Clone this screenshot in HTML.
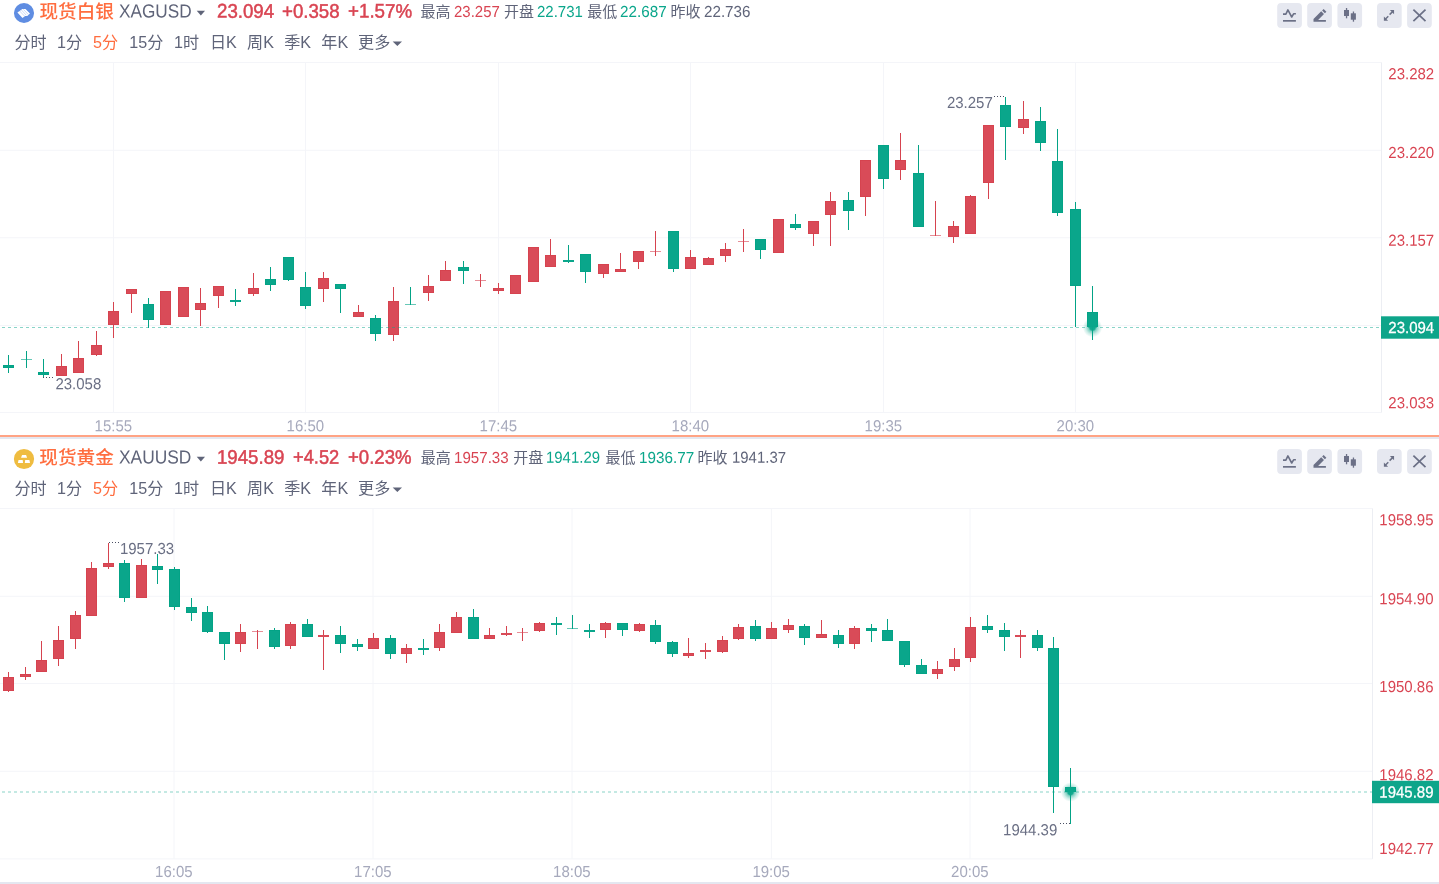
<!DOCTYPE html>
<html lang="zh-CN"><head><meta charset="utf-8"><title>行情图表</title>
<style>
html,body{margin:0;padding:0;background:#fff;}
body{width:1439px;height:884px;overflow:hidden;position:relative;font-family:"Liberation Sans", "Noto Sans CJK SC", sans-serif;}
.t{position:absolute;white-space:nowrap;line-height:1;transform-origin:0 50%;}
svg{position:absolute;left:0;top:0;} svg text{font-family:"Liberation Sans", "Noto Sans CJK SC", sans-serif;}
.sep{position:absolute;left:0;width:1439px;} a.t{text-decoration:none;cursor:pointer;}
</style></head><body>
<svg width="1439" height="884" viewBox="0 0 1439 884">
<defs><radialGradient id="glow"><stop offset="0" stop-color="#0aa68b" stop-opacity="1"/><stop offset="0.27" stop-color="#0aa68b" stop-opacity="0.95"/><stop offset="0.42" stop-color="#0aa68b" stop-opacity="0.5"/><stop offset="0.7" stop-color="#0aa68b" stop-opacity="0.2"/><stop offset="1" stop-color="#0aa68b" stop-opacity="0"/></radialGradient></defs>
<g stroke="#f4f5f9" stroke-width="1" fill="none">
<line x1="0" y1="62.5" x2="1381.5" y2="62.5"/>
<line x1="0" y1="412.5" x2="1381.5" y2="412.5"/>
<line x1="0" y1="150.25" x2="1381" y2="150.25"/>
<line x1="0" y1="237.75" x2="1381" y2="237.75"/>
<line x1="0" y1="325.5" x2="1381" y2="325.5"/>
<line x1="113.5" y1="62.5" x2="113.5" y2="412.5"/>
<line x1="305.5" y1="62.5" x2="305.5" y2="412.5"/>
<line x1="498.5" y1="62.5" x2="498.5" y2="412.5"/>
<line x1="690.5" y1="62.5" x2="690.5" y2="412.5"/>
<line x1="883.5" y1="62.5" x2="883.5" y2="412.5"/>
<line x1="1075.5" y1="62.5" x2="1075.5" y2="412.5"/>
<line x1="1381.5" y1="62.5" x2="1381.5" y2="412.5" stroke="#eceef3"/>
</g>
<g shape-rendering="crispEdges"><rect x="8" y="355" width="1" height="18" fill="#03a386"/>
<rect x="3" y="365" width="11" height="3" fill="#03a386"/>
<rect x="4" y="366" width="9" height="1" fill="#0aa68b"/>
<rect x="26" y="351" width="1" height="17" fill="#03a386"/>
<rect x="21" y="359" width="11" height="1" fill="#0aa68b" fill-opacity="0.62"/>
<rect x="43" y="359" width="1" height="19" fill="#03a386"/>
<rect x="38" y="372" width="11" height="3" fill="#03a386"/>
<rect x="39" y="373" width="9" height="1" fill="#0aa68b"/>
<rect x="61" y="354" width="1" height="22" fill="#d6434f"/>
<rect x="56" y="366" width="11" height="10" fill="#d6434f"/>
<rect x="57" y="367" width="9" height="8" fill="#d94b58"/>
<rect x="78" y="341" width="1" height="32" fill="#d6434f"/>
<rect x="73" y="358" width="11" height="15" fill="#d6434f"/>
<rect x="74" y="359" width="9" height="13" fill="#d94b58"/>
<rect x="96" y="331" width="1" height="25" fill="#d6434f"/>
<rect x="91" y="345" width="11" height="10" fill="#d6434f"/>
<rect x="92" y="346" width="9" height="8" fill="#d94b58"/>
<rect x="113" y="302" width="1" height="36" fill="#d6434f"/>
<rect x="108" y="311" width="11" height="14" fill="#d6434f"/>
<rect x="109" y="312" width="9" height="12" fill="#d94b58"/>
<rect x="131" y="289" width="1" height="24" fill="#d6434f"/>
<rect x="126" y="289" width="11" height="5" fill="#d6434f"/>
<rect x="127" y="290" width="9" height="3" fill="#d94b58"/>
<rect x="148" y="298" width="1" height="30" fill="#03a386"/>
<rect x="143" y="304" width="11" height="16" fill="#03a386"/>
<rect x="144" y="305" width="9" height="14" fill="#0aa68b"/>
<rect x="165" y="291" width="1" height="34" fill="#d6434f"/>
<rect x="160" y="291" width="11" height="34" fill="#d6434f"/>
<rect x="161" y="292" width="9" height="32" fill="#d94b58"/>
<rect x="183" y="287" width="1" height="30" fill="#d6434f"/>
<rect x="178" y="287" width="11" height="30" fill="#d6434f"/>
<rect x="179" y="288" width="9" height="28" fill="#d94b58"/>
<rect x="200" y="288" width="1" height="38" fill="#d6434f"/>
<rect x="195" y="303" width="11" height="7" fill="#d6434f"/>
<rect x="196" y="304" width="9" height="5" fill="#d94b58"/>
<rect x="218" y="286" width="1" height="22" fill="#d6434f"/>
<rect x="213" y="286" width="11" height="10" fill="#d6434f"/>
<rect x="214" y="287" width="9" height="8" fill="#d94b58"/>
<rect x="235" y="289" width="1" height="17" fill="#03a386"/>
<rect x="230" y="300" width="11" height="2" fill="#0aa68b"/>
<rect x="253" y="273" width="1" height="23" fill="#d6434f"/>
<rect x="248" y="288" width="11" height="6" fill="#d6434f"/>
<rect x="249" y="289" width="9" height="4" fill="#d94b58"/>
<rect x="270" y="267" width="1" height="24" fill="#03a386"/>
<rect x="265" y="279" width="11" height="6" fill="#03a386"/>
<rect x="266" y="280" width="9" height="4" fill="#0aa68b"/>
<rect x="288" y="257" width="1" height="24" fill="#03a386"/>
<rect x="283" y="257" width="11" height="23" fill="#03a386"/>
<rect x="284" y="258" width="9" height="21" fill="#0aa68b"/>
<rect x="305" y="272" width="1" height="37" fill="#03a386"/>
<rect x="300" y="287" width="11" height="19" fill="#03a386"/>
<rect x="301" y="288" width="9" height="17" fill="#0aa68b"/>
<rect x="323" y="272" width="1" height="30" fill="#d6434f"/>
<rect x="318" y="278" width="11" height="11" fill="#d6434f"/>
<rect x="319" y="279" width="9" height="9" fill="#d94b58"/>
<rect x="340" y="284" width="1" height="29" fill="#03a386"/>
<rect x="335" y="284" width="11" height="5" fill="#03a386"/>
<rect x="336" y="285" width="9" height="3" fill="#0aa68b"/>
<rect x="358" y="305" width="1" height="12" fill="#d6434f"/>
<rect x="353" y="312" width="11" height="5" fill="#d6434f"/>
<rect x="354" y="313" width="9" height="3" fill="#d94b58"/>
<rect x="375" y="315" width="1" height="26" fill="#03a386"/>
<rect x="370" y="318" width="11" height="16" fill="#03a386"/>
<rect x="371" y="319" width="9" height="14" fill="#0aa68b"/>
<rect x="393" y="287" width="1" height="54" fill="#d6434f"/>
<rect x="388" y="301" width="11" height="34" fill="#d6434f"/>
<rect x="389" y="302" width="9" height="32" fill="#d94b58"/>
<rect x="410" y="287" width="1" height="18" fill="#03a386"/>
<rect x="405" y="304" width="11" height="1" fill="#0aa68b" fill-opacity="0.62"/>
<rect x="428" y="275" width="1" height="26" fill="#d6434f"/>
<rect x="423" y="286" width="11" height="7" fill="#d6434f"/>
<rect x="424" y="287" width="9" height="5" fill="#d94b58"/>
<rect x="445" y="261" width="1" height="20" fill="#d6434f"/>
<rect x="440" y="270" width="11" height="11" fill="#d6434f"/>
<rect x="441" y="271" width="9" height="9" fill="#d94b58"/>
<rect x="463" y="261" width="1" height="23" fill="#03a386"/>
<rect x="458" y="267" width="11" height="4" fill="#03a386"/>
<rect x="459" y="268" width="9" height="2" fill="#0aa68b"/>
<rect x="480" y="274" width="1" height="13" fill="#d6434f"/>
<rect x="475" y="280" width="11" height="1" fill="#d94b58" fill-opacity="0.62"/>
<rect x="498" y="283" width="1" height="11" fill="#d6434f"/>
<rect x="493" y="288" width="11" height="3" fill="#d6434f"/>
<rect x="494" y="289" width="9" height="1" fill="#d94b58"/>
<rect x="515" y="275" width="1" height="19" fill="#d6434f"/>
<rect x="510" y="275" width="11" height="19" fill="#d6434f"/>
<rect x="511" y="276" width="9" height="17" fill="#d94b58"/>
<rect x="533" y="247" width="1" height="35" fill="#d6434f"/>
<rect x="528" y="247" width="11" height="35" fill="#d6434f"/>
<rect x="529" y="248" width="9" height="33" fill="#d94b58"/>
<rect x="550" y="239" width="1" height="28" fill="#d6434f"/>
<rect x="545" y="255" width="11" height="12" fill="#d6434f"/>
<rect x="546" y="256" width="9" height="10" fill="#d94b58"/>
<rect x="568" y="245" width="1" height="18" fill="#03a386"/>
<rect x="563" y="260" width="11" height="2" fill="#0aa68b"/>
<rect x="585" y="254" width="1" height="29" fill="#03a386"/>
<rect x="580" y="254" width="11" height="18" fill="#03a386"/>
<rect x="581" y="255" width="9" height="16" fill="#0aa68b"/>
<rect x="603" y="264" width="1" height="14" fill="#d6434f"/>
<rect x="598" y="264" width="11" height="10" fill="#d6434f"/>
<rect x="599" y="265" width="9" height="8" fill="#d94b58"/>
<rect x="620" y="253" width="1" height="19" fill="#d6434f"/>
<rect x="615" y="269" width="11" height="3" fill="#d6434f"/>
<rect x="616" y="270" width="9" height="1" fill="#d94b58"/>
<rect x="638" y="251" width="1" height="18" fill="#d6434f"/>
<rect x="633" y="251" width="11" height="11" fill="#d6434f"/>
<rect x="634" y="252" width="9" height="9" fill="#d94b58"/>
<rect x="655" y="231" width="1" height="25" fill="#d6434f"/>
<rect x="650" y="251" width="11" height="1" fill="#d94b58" fill-opacity="0.62"/>
<rect x="673" y="231" width="1" height="41" fill="#03a386"/>
<rect x="668" y="231" width="11" height="38" fill="#03a386"/>
<rect x="669" y="232" width="9" height="36" fill="#0aa68b"/>
<rect x="690" y="250" width="1" height="19" fill="#d6434f"/>
<rect x="685" y="257" width="11" height="12" fill="#d6434f"/>
<rect x="686" y="258" width="9" height="10" fill="#d94b58"/>
<rect x="708" y="257" width="1" height="8" fill="#d6434f"/>
<rect x="703" y="258" width="11" height="7" fill="#d6434f"/>
<rect x="704" y="259" width="9" height="5" fill="#d94b58"/>
<rect x="725" y="243" width="1" height="19" fill="#d6434f"/>
<rect x="720" y="249" width="11" height="7" fill="#d6434f"/>
<rect x="721" y="250" width="9" height="5" fill="#d94b58"/>
<rect x="743" y="229" width="1" height="23" fill="#d6434f"/>
<rect x="738" y="241" width="11" height="1" fill="#d94b58" fill-opacity="0.62"/>
<rect x="760" y="239" width="1" height="20" fill="#03a386"/>
<rect x="755" y="239" width="11" height="11" fill="#03a386"/>
<rect x="756" y="240" width="9" height="9" fill="#0aa68b"/>
<rect x="778" y="219" width="1" height="34" fill="#d6434f"/>
<rect x="773" y="219" width="11" height="34" fill="#d6434f"/>
<rect x="774" y="220" width="9" height="32" fill="#d94b58"/>
<rect x="795" y="214" width="1" height="16" fill="#03a386"/>
<rect x="790" y="224" width="11" height="4" fill="#03a386"/>
<rect x="791" y="225" width="9" height="2" fill="#0aa68b"/>
<rect x="813" y="221" width="1" height="25" fill="#d6434f"/>
<rect x="808" y="221" width="11" height="13" fill="#d6434f"/>
<rect x="809" y="222" width="9" height="11" fill="#d94b58"/>
<rect x="830" y="192" width="1" height="54" fill="#d6434f"/>
<rect x="825" y="201" width="11" height="14" fill="#d6434f"/>
<rect x="826" y="202" width="9" height="12" fill="#d94b58"/>
<rect x="848" y="192" width="1" height="38" fill="#03a386"/>
<rect x="843" y="200" width="11" height="11" fill="#03a386"/>
<rect x="844" y="201" width="9" height="9" fill="#0aa68b"/>
<rect x="865" y="160" width="1" height="56" fill="#d6434f"/>
<rect x="860" y="160" width="11" height="37" fill="#d6434f"/>
<rect x="861" y="161" width="9" height="35" fill="#d94b58"/>
<rect x="883" y="145" width="1" height="44" fill="#03a386"/>
<rect x="878" y="145" width="11" height="34" fill="#03a386"/>
<rect x="879" y="146" width="9" height="32" fill="#0aa68b"/>
<rect x="900" y="133" width="1" height="47" fill="#d6434f"/>
<rect x="895" y="160" width="11" height="10" fill="#d6434f"/>
<rect x="896" y="161" width="9" height="8" fill="#d94b58"/>
<rect x="918" y="145" width="1" height="82" fill="#03a386"/>
<rect x="913" y="173" width="11" height="54" fill="#03a386"/>
<rect x="914" y="174" width="9" height="52" fill="#0aa68b"/>
<rect x="935" y="201" width="1" height="35" fill="#d6434f"/>
<rect x="930" y="235" width="11" height="1" fill="#d94b58" fill-opacity="0.62"/>
<rect x="953" y="221" width="1" height="22" fill="#d6434f"/>
<rect x="948" y="226" width="11" height="11" fill="#d6434f"/>
<rect x="949" y="227" width="9" height="9" fill="#d94b58"/>
<rect x="970" y="195" width="1" height="39" fill="#d6434f"/>
<rect x="965" y="196" width="11" height="38" fill="#d6434f"/>
<rect x="966" y="197" width="9" height="36" fill="#d94b58"/>
<rect x="988" y="125" width="1" height="74" fill="#d6434f"/>
<rect x="983" y="125" width="11" height="58" fill="#d6434f"/>
<rect x="984" y="126" width="9" height="56" fill="#d94b58"/>
<rect x="1005" y="97" width="1" height="63" fill="#03a386"/>
<rect x="1000" y="105" width="11" height="22" fill="#03a386"/>
<rect x="1001" y="106" width="9" height="20" fill="#0aa68b"/>
<rect x="1023" y="101" width="1" height="33" fill="#d6434f"/>
<rect x="1018" y="119" width="11" height="9" fill="#d6434f"/>
<rect x="1019" y="120" width="9" height="7" fill="#d94b58"/>
<rect x="1040" y="107" width="1" height="44" fill="#03a386"/>
<rect x="1035" y="121" width="11" height="22" fill="#03a386"/>
<rect x="1036" y="122" width="9" height="20" fill="#0aa68b"/>
<rect x="1057" y="129" width="1" height="87" fill="#03a386"/>
<rect x="1052" y="161" width="11" height="52" fill="#03a386"/>
<rect x="1053" y="162" width="9" height="50" fill="#0aa68b"/>
<rect x="1075" y="202" width="1" height="125" fill="#03a386"/>
<rect x="1070" y="209" width="11" height="77" fill="#03a386"/>
<rect x="1071" y="210" width="9" height="75" fill="#0aa68b"/>
<rect x="1092" y="286" width="1" height="54" fill="#03a386"/>
<rect x="1087" y="312" width="11" height="15" fill="#03a386"/>
<rect x="1088" y="313" width="9" height="13" fill="#0aa68b"/></g>
<line x1="0" y1="327.5" x2="1381" y2="327.5" stroke="#0aa68b" stroke-opacity="0.48" stroke-width="1" stroke-dasharray="3 3" stroke-dashoffset="-2"/>
<circle cx="1092.5" cy="327.5" r="9.8" fill="url(#glow)"/>
<g font-size="15" fill="#a6a9bc" text-anchor="middle">
<text transform="translate(113.30,431.20) rotate(0.05) scale(1,1.065)" >15:55</text>
<text transform="translate(305.30,431.20) rotate(0.05) scale(1,1.065)" >16:50</text>
<text transform="translate(498.30,431.20) rotate(0.05) scale(1,1.065)" >17:45</text>
<text transform="translate(690.30,431.20) rotate(0.05) scale(1,1.065)" >18:40</text>
<text transform="translate(883.30,431.20) rotate(0.05) scale(1,1.065)" >19:35</text>
<text transform="translate(1075.30,431.20) rotate(0.05) scale(1,1.065)" >20:30</text>
</g>
<g font-size="15" fill="#d94452">
<text transform="translate(1388.30,79.30) rotate(0.05) scale(1,1.065)" >23.282</text>
<text transform="translate(1388.30,158.00) rotate(0.05) scale(1,1.065)" >23.220</text>
<text transform="translate(1388.30,245.80) rotate(0.05) scale(1,1.065)" >23.157</text>
<text transform="translate(1388.30,408.30) rotate(0.05) scale(1,1.065)" >23.033</text>
</g>
<rect x="1381" y="316.3" width="58" height="22.4" fill="#0ea58a"/>
<text transform="translate(1388.30,332.90) rotate(0.05) scale(1,1.065)" font-size="15" fill="#fff" stroke="#fff" stroke-width="0.25">23.094</text>
<text transform="translate(946.90,108.00) rotate(0.05) scale(1,1.065)" font-size="15" fill="#6a6f84">23.257</text>
<line x1="994" y1="96.5" x2="1006" y2="96.5" stroke="#4a4f63" stroke-width="1" stroke-dasharray="1 2"/>
<text transform="translate(55.40,389.20) rotate(0.05) scale(1,1.065)" font-size="15" fill="#6a6f84">23.058</text>
<line x1="43" y1="377.5" x2="55" y2="377.5" stroke="#4a4f63" stroke-width="1" stroke-dasharray="1 2"/>
<g stroke="#f4f5f9" stroke-width="1" fill="none">
<line x1="0" y1="508.5" x2="1372.5" y2="508.5"/>
<line x1="0" y1="858.9" x2="1372.5" y2="858.9"/>
<line x1="0" y1="596.25" x2="1372" y2="596.25"/>
<line x1="0" y1="683.5" x2="1372" y2="683.5"/>
<line x1="0" y1="771.25" x2="1372" y2="771.25"/>
<line x1="174.0" y1="508.5" x2="174.0" y2="858.9"/>
<line x1="373.0" y1="508.5" x2="373.0" y2="858.9"/>
<line x1="572.0" y1="508.5" x2="572.0" y2="858.9"/>
<line x1="771.4" y1="508.5" x2="771.4" y2="858.9"/>
<line x1="970.0" y1="508.5" x2="970.0" y2="858.9"/>
<line x1="1372.5" y1="508.5" x2="1372.5" y2="858.9" stroke="#eceef3"/>
</g>
<g shape-rendering="crispEdges"><rect x="8" y="672" width="1" height="20" fill="#d6434f"/>
<rect x="3" y="677" width="11" height="14" fill="#d6434f"/>
<rect x="4" y="678" width="9" height="12" fill="#d94b58"/>
<rect x="25" y="667" width="1" height="13" fill="#d6434f"/>
<rect x="20" y="674" width="11" height="3" fill="#d6434f"/>
<rect x="21" y="675" width="9" height="1" fill="#d94b58"/>
<rect x="41" y="641" width="1" height="31" fill="#d6434f"/>
<rect x="36" y="660" width="11" height="12" fill="#d6434f"/>
<rect x="37" y="661" width="9" height="10" fill="#d94b58"/>
<rect x="58" y="626" width="1" height="40" fill="#d6434f"/>
<rect x="53" y="640" width="11" height="19" fill="#d6434f"/>
<rect x="54" y="641" width="9" height="17" fill="#d94b58"/>
<rect x="75" y="611" width="1" height="38" fill="#d6434f"/>
<rect x="70" y="615" width="11" height="24" fill="#d6434f"/>
<rect x="71" y="616" width="9" height="22" fill="#d94b58"/>
<rect x="91" y="562" width="1" height="54" fill="#d6434f"/>
<rect x="86" y="568" width="11" height="48" fill="#d6434f"/>
<rect x="87" y="569" width="9" height="46" fill="#d94b58"/>
<rect x="108" y="543" width="1" height="26" fill="#d6434f"/>
<rect x="103" y="563" width="11" height="4" fill="#d6434f"/>
<rect x="104" y="564" width="9" height="2" fill="#d94b58"/>
<rect x="124" y="560" width="1" height="42" fill="#03a386"/>
<rect x="119" y="563" width="11" height="35" fill="#03a386"/>
<rect x="120" y="564" width="9" height="33" fill="#0aa68b"/>
<rect x="141" y="559" width="1" height="39" fill="#d6434f"/>
<rect x="136" y="565" width="11" height="33" fill="#d6434f"/>
<rect x="137" y="566" width="9" height="31" fill="#d94b58"/>
<rect x="157" y="554" width="1" height="30" fill="#03a386"/>
<rect x="152" y="566" width="11" height="4" fill="#03a386"/>
<rect x="153" y="567" width="9" height="2" fill="#0aa68b"/>
<rect x="174" y="567" width="1" height="43" fill="#03a386"/>
<rect x="169" y="569" width="11" height="38" fill="#03a386"/>
<rect x="170" y="570" width="9" height="36" fill="#0aa68b"/>
<rect x="191" y="598" width="1" height="23" fill="#03a386"/>
<rect x="186" y="607" width="11" height="6" fill="#03a386"/>
<rect x="187" y="608" width="9" height="4" fill="#0aa68b"/>
<rect x="207" y="606" width="1" height="27" fill="#03a386"/>
<rect x="202" y="612" width="11" height="20" fill="#03a386"/>
<rect x="203" y="613" width="9" height="18" fill="#0aa68b"/>
<rect x="224" y="632" width="1" height="28" fill="#03a386"/>
<rect x="219" y="632" width="11" height="12" fill="#03a386"/>
<rect x="220" y="633" width="9" height="10" fill="#0aa68b"/>
<rect x="240" y="624" width="1" height="28" fill="#d6434f"/>
<rect x="235" y="632" width="11" height="12" fill="#d6434f"/>
<rect x="236" y="633" width="9" height="10" fill="#d94b58"/>
<rect x="257" y="630" width="1" height="19" fill="#d6434f"/>
<rect x="252" y="631" width="11" height="1" fill="#d94b58" fill-opacity="0.62"/>
<rect x="274" y="628" width="1" height="21" fill="#03a386"/>
<rect x="269" y="630" width="11" height="17" fill="#03a386"/>
<rect x="270" y="631" width="9" height="15" fill="#0aa68b"/>
<rect x="290" y="622" width="1" height="27" fill="#d6434f"/>
<rect x="285" y="624" width="11" height="22" fill="#d6434f"/>
<rect x="286" y="625" width="9" height="20" fill="#d94b58"/>
<rect x="307" y="619" width="1" height="18" fill="#03a386"/>
<rect x="302" y="624" width="11" height="13" fill="#03a386"/>
<rect x="303" y="625" width="9" height="11" fill="#0aa68b"/>
<rect x="323" y="630" width="1" height="40" fill="#d6434f"/>
<rect x="318" y="635" width="11" height="2" fill="#d94b58"/>
<rect x="340" y="626" width="1" height="27" fill="#03a386"/>
<rect x="335" y="635" width="11" height="9" fill="#03a386"/>
<rect x="336" y="636" width="9" height="7" fill="#0aa68b"/>
<rect x="357" y="639" width="1" height="12" fill="#03a386"/>
<rect x="352" y="644" width="11" height="3" fill="#03a386"/>
<rect x="353" y="645" width="9" height="1" fill="#0aa68b"/>
<rect x="373" y="633" width="1" height="16" fill="#d6434f"/>
<rect x="368" y="638" width="11" height="11" fill="#d6434f"/>
<rect x="369" y="639" width="9" height="9" fill="#d94b58"/>
<rect x="390" y="635" width="1" height="24" fill="#03a386"/>
<rect x="385" y="638" width="11" height="16" fill="#03a386"/>
<rect x="386" y="639" width="9" height="14" fill="#0aa68b"/>
<rect x="406" y="644" width="1" height="19" fill="#d6434f"/>
<rect x="401" y="648" width="11" height="6" fill="#d6434f"/>
<rect x="402" y="649" width="9" height="4" fill="#d94b58"/>
<rect x="423" y="639" width="1" height="16" fill="#03a386"/>
<rect x="418" y="648" width="11" height="2" fill="#0aa68b"/>
<rect x="439" y="624" width="1" height="27" fill="#d6434f"/>
<rect x="434" y="632" width="11" height="16" fill="#d6434f"/>
<rect x="435" y="633" width="9" height="14" fill="#d94b58"/>
<rect x="456" y="612" width="1" height="21" fill="#d6434f"/>
<rect x="451" y="617" width="11" height="16" fill="#d6434f"/>
<rect x="452" y="618" width="9" height="14" fill="#d94b58"/>
<rect x="473" y="609" width="1" height="30" fill="#03a386"/>
<rect x="468" y="617" width="11" height="22" fill="#03a386"/>
<rect x="469" y="618" width="9" height="20" fill="#0aa68b"/>
<rect x="489" y="628" width="1" height="11" fill="#d6434f"/>
<rect x="484" y="635" width="11" height="4" fill="#d6434f"/>
<rect x="485" y="636" width="9" height="2" fill="#d94b58"/>
<rect x="506" y="626" width="1" height="10" fill="#d6434f"/>
<rect x="501" y="633" width="11" height="2" fill="#d94b58"/>
<rect x="522" y="628" width="1" height="13" fill="#d6434f"/>
<rect x="517" y="632" width="11" height="1" fill="#d94b58" fill-opacity="0.62"/>
<rect x="539" y="622" width="1" height="10" fill="#d6434f"/>
<rect x="534" y="623" width="11" height="8" fill="#d6434f"/>
<rect x="535" y="624" width="9" height="6" fill="#d94b58"/>
<rect x="556" y="617" width="1" height="18" fill="#03a386"/>
<rect x="551" y="623" width="11" height="2" fill="#0aa68b"/>
<rect x="572" y="615" width="1" height="14" fill="#03a386"/>
<rect x="567" y="628" width="11" height="1" fill="#0aa68b" fill-opacity="0.62"/>
<rect x="589" y="624" width="1" height="14" fill="#03a386"/>
<rect x="584" y="630" width="11" height="2" fill="#0aa68b"/>
<rect x="605" y="622" width="1" height="16" fill="#d6434f"/>
<rect x="600" y="623" width="11" height="7" fill="#d6434f"/>
<rect x="601" y="624" width="9" height="5" fill="#d94b58"/>
<rect x="622" y="623" width="1" height="13" fill="#03a386"/>
<rect x="617" y="623" width="11" height="7" fill="#03a386"/>
<rect x="618" y="624" width="9" height="5" fill="#0aa68b"/>
<rect x="639" y="623" width="1" height="9" fill="#d6434f"/>
<rect x="634" y="624" width="11" height="7" fill="#d6434f"/>
<rect x="635" y="625" width="9" height="5" fill="#d94b58"/>
<rect x="655" y="620" width="1" height="24" fill="#03a386"/>
<rect x="650" y="625" width="11" height="17" fill="#03a386"/>
<rect x="651" y="626" width="9" height="15" fill="#0aa68b"/>
<rect x="672" y="641" width="1" height="16" fill="#03a386"/>
<rect x="667" y="642" width="11" height="12" fill="#03a386"/>
<rect x="668" y="643" width="9" height="10" fill="#0aa68b"/>
<rect x="688" y="638" width="1" height="20" fill="#d6434f"/>
<rect x="683" y="653" width="11" height="3" fill="#d6434f"/>
<rect x="684" y="654" width="9" height="1" fill="#d94b58"/>
<rect x="705" y="643" width="1" height="16" fill="#d6434f"/>
<rect x="700" y="650" width="11" height="2" fill="#d94b58"/>
<rect x="722" y="636" width="1" height="17" fill="#d6434f"/>
<rect x="717" y="640" width="11" height="12" fill="#d6434f"/>
<rect x="718" y="641" width="9" height="10" fill="#d94b58"/>
<rect x="738" y="624" width="1" height="16" fill="#d6434f"/>
<rect x="733" y="627" width="11" height="12" fill="#d6434f"/>
<rect x="734" y="628" width="9" height="10" fill="#d94b58"/>
<rect x="755" y="620" width="1" height="21" fill="#03a386"/>
<rect x="750" y="626" width="11" height="13" fill="#03a386"/>
<rect x="751" y="627" width="9" height="11" fill="#0aa68b"/>
<rect x="771" y="622" width="1" height="17" fill="#d6434f"/>
<rect x="766" y="628" width="11" height="11" fill="#d6434f"/>
<rect x="767" y="629" width="9" height="9" fill="#d94b58"/>
<rect x="788" y="619" width="1" height="14" fill="#d6434f"/>
<rect x="783" y="625" width="11" height="5" fill="#d6434f"/>
<rect x="784" y="626" width="9" height="3" fill="#d94b58"/>
<rect x="804" y="624" width="1" height="21" fill="#03a386"/>
<rect x="799" y="626" width="11" height="12" fill="#03a386"/>
<rect x="800" y="627" width="9" height="10" fill="#0aa68b"/>
<rect x="821" y="620" width="1" height="18" fill="#d6434f"/>
<rect x="816" y="634" width="11" height="4" fill="#d6434f"/>
<rect x="817" y="635" width="9" height="2" fill="#d94b58"/>
<rect x="838" y="630" width="1" height="18" fill="#03a386"/>
<rect x="833" y="635" width="11" height="9" fill="#03a386"/>
<rect x="834" y="636" width="9" height="7" fill="#0aa68b"/>
<rect x="854" y="626" width="1" height="23" fill="#d6434f"/>
<rect x="849" y="628" width="11" height="16" fill="#d6434f"/>
<rect x="850" y="629" width="9" height="14" fill="#d94b58"/>
<rect x="871" y="624" width="1" height="18" fill="#03a386"/>
<rect x="866" y="628" width="11" height="3" fill="#03a386"/>
<rect x="867" y="629" width="9" height="1" fill="#0aa68b"/>
<rect x="887" y="619" width="1" height="22" fill="#03a386"/>
<rect x="882" y="630" width="11" height="11" fill="#03a386"/>
<rect x="883" y="631" width="9" height="9" fill="#0aa68b"/>
<rect x="904" y="641" width="1" height="26" fill="#03a386"/>
<rect x="899" y="641" width="11" height="24" fill="#03a386"/>
<rect x="900" y="642" width="9" height="22" fill="#0aa68b"/>
<rect x="921" y="659" width="1" height="15" fill="#03a386"/>
<rect x="916" y="665" width="11" height="9" fill="#03a386"/>
<rect x="917" y="666" width="9" height="7" fill="#0aa68b"/>
<rect x="937" y="661" width="1" height="18" fill="#d6434f"/>
<rect x="932" y="669" width="11" height="5" fill="#d6434f"/>
<rect x="933" y="670" width="9" height="3" fill="#d94b58"/>
<rect x="954" y="648" width="1" height="23" fill="#d6434f"/>
<rect x="949" y="659" width="11" height="8" fill="#d6434f"/>
<rect x="950" y="660" width="9" height="6" fill="#d94b58"/>
<rect x="970" y="617" width="1" height="45" fill="#d6434f"/>
<rect x="965" y="627" width="11" height="31" fill="#d6434f"/>
<rect x="966" y="628" width="9" height="29" fill="#d94b58"/>
<rect x="987" y="615" width="1" height="18" fill="#03a386"/>
<rect x="982" y="626" width="11" height="4" fill="#03a386"/>
<rect x="983" y="627" width="9" height="2" fill="#0aa68b"/>
<rect x="1004" y="623" width="1" height="28" fill="#03a386"/>
<rect x="999" y="630" width="11" height="7" fill="#03a386"/>
<rect x="1000" y="631" width="9" height="5" fill="#0aa68b"/>
<rect x="1020" y="630" width="1" height="28" fill="#d6434f"/>
<rect x="1015" y="635" width="11" height="2" fill="#d94b58"/>
<rect x="1037" y="630" width="1" height="21" fill="#03a386"/>
<rect x="1032" y="635" width="11" height="13" fill="#03a386"/>
<rect x="1033" y="636" width="9" height="11" fill="#0aa68b"/>
<rect x="1053" y="637" width="1" height="176" fill="#03a386"/>
<rect x="1048" y="648" width="11" height="139" fill="#03a386"/>
<rect x="1049" y="649" width="9" height="137" fill="#0aa68b"/>
<rect x="1070" y="768" width="1" height="56" fill="#03a386"/>
<rect x="1065" y="787" width="11" height="5" fill="#03a386"/>
<rect x="1066" y="788" width="9" height="3" fill="#0aa68b"/></g>
<line x1="0" y1="792.0" x2="1372" y2="792.0" stroke="#0aa68b" stroke-opacity="0.48" stroke-width="1" stroke-dasharray="3 3" stroke-dashoffset="-2"/>
<circle cx="1070.5" cy="792.0" r="9.8" fill="url(#glow)"/>
<g font-size="15" fill="#a6a9bc" text-anchor="middle">
<text transform="translate(173.80,877.00) rotate(0.05) scale(1,1.065)" >16:05</text>
<text transform="translate(372.80,877.00) rotate(0.05) scale(1,1.065)" >17:05</text>
<text transform="translate(571.80,877.00) rotate(0.05) scale(1,1.065)" >18:05</text>
<text transform="translate(771.20,877.00) rotate(0.05) scale(1,1.065)" >19:05</text>
<text transform="translate(969.80,877.00) rotate(0.05) scale(1,1.065)" >20:05</text>
</g>
<g font-size="15" fill="#d94452">
<text transform="translate(1379.30,525.20) rotate(0.05) scale(1,1.065)" >1958.95</text>
<text transform="translate(1379.30,604.30) rotate(0.05) scale(1,1.065)" >1954.90</text>
<text transform="translate(1379.30,692.10) rotate(0.05) scale(1,1.065)" >1950.86</text>
<text transform="translate(1379.30,780.20) rotate(0.05) scale(1,1.065)" >1946.82</text>
<text transform="translate(1379.30,853.90) rotate(0.05) scale(1,1.065)" >1942.77</text>
</g>
<rect x="1372" y="780.8" width="67" height="22.4" fill="#0ea58a"/>
<text transform="translate(1379.30,797.40) rotate(0.05) scale(1,1.065)" font-size="15" fill="#fff" stroke="#fff" stroke-width="0.25">1945.89</text>
<text transform="translate(119.90,554.00) rotate(0.05) scale(1,1.065)" font-size="15" fill="#6a6f84">1957.33</text>
<line x1="109" y1="542.5" x2="119" y2="542.5" stroke="#4a4f63" stroke-width="1" stroke-dasharray="1 2"/>
<text transform="translate(1003.10,835.20) rotate(0.05) scale(1,1.065)" font-size="15" fill="#6a6f84">1944.39</text>
<line x1="1060" y1="823.5" x2="1071" y2="823.5" stroke="#4a4f63" stroke-width="1" stroke-dasharray="1 2"/>
<rect x="1277.2" y="3.05" width="24.7" height="24.85" rx="4" fill="#e6e8f0"/>
<rect x="1307.2" y="3.05" width="24.7" height="24.85" rx="4" fill="#e6e8f0"/>
<rect x="1337.4" y="3.05" width="24.7" height="24.85" rx="4" fill="#e6e8f0"/>
<rect x="1377.0" y="3.05" width="24.7" height="24.85" rx="4" fill="#e6e8f0"/>
<rect x="1407.1" y="3.05" width="24.7" height="24.85" rx="4" fill="#e6e8f0"/>
<g transform="translate(0,0)" fill="none" stroke="#6b7086" stroke-width="1.6" stroke-linejoin="round">
<path d="M1283 14.1 L1285.9 14.1 L1287.9 9.9 L1291.7 17.0 L1293.6 13.8 L1295.9 13.8"/>
<path d="M1283 20.85 L1295.9 20.85" stroke-width="1.7"/>
</g>
<g transform="translate(0,0)" fill="#6b7086">
<path d="M1313.5 21.7 L1313.5 18.9 L1321.2 11.3 L1324.0 14.1 L1318.1 20 L1325.9 20 L1325.9 21.7 Z"/>
<path d="M1322.1 10.4 L1323.6 8.9 L1326.4 11.7 L1324.9 13.2 Z"/>
</g>
<g transform="translate(0,0)" fill="#6b7086">
<rect x="1344" y="10" width="5" height="6"/><rect x="1345.9" y="8" width="1.3" height="10.3"/>
<rect x="1350.8" y="13.3" width="5.1" height="6.4"/><rect x="1352.8" y="11.5" width="1.3" height="10.2"/>
</g>
<g transform="translate(0,0)" fill="#6b7086" stroke="#6b7086" stroke-width="1.5">
<path d="M1389.9 10.1 L1394.05 10.1 L1394.05 14.3 Z" stroke="none"/>
<path d="M1389.6 14.6 L1392.6 11.6" fill="none"/>
<path d="M1383.9 16.5 L1383.9 20.7 L1388.1 20.7 Z" stroke="none"/>
<path d="M1388.3 16.2 L1385.3 19.2" fill="none"/>
</g>
<g transform="translate(0,0)" stroke="#6b7086" stroke-width="1.7" fill="none">
<path d="M1413.4 9.6 L1425.5 21.2 M1425.5 9.6 L1413.4 21.2"/>
</g>
<rect x="1277.2" y="449.05" width="24.7" height="24.85" rx="4" fill="#e6e8f0"/>
<rect x="1307.2" y="449.05" width="24.7" height="24.85" rx="4" fill="#e6e8f0"/>
<rect x="1337.4" y="449.05" width="24.7" height="24.85" rx="4" fill="#e6e8f0"/>
<rect x="1377.0" y="449.05" width="24.7" height="24.85" rx="4" fill="#e6e8f0"/>
<rect x="1407.1" y="449.05" width="24.7" height="24.85" rx="4" fill="#e6e8f0"/>
<g transform="translate(0,446)" fill="none" stroke="#6b7086" stroke-width="1.6" stroke-linejoin="round">
<path d="M1283 14.1 L1285.9 14.1 L1287.9 9.9 L1291.7 17.0 L1293.6 13.8 L1295.9 13.8"/>
<path d="M1283 20.85 L1295.9 20.85" stroke-width="1.7"/>
</g>
<g transform="translate(0,446)" fill="#6b7086">
<path d="M1313.5 21.7 L1313.5 18.9 L1321.2 11.3 L1324.0 14.1 L1318.1 20 L1325.9 20 L1325.9 21.7 Z"/>
<path d="M1322.1 10.4 L1323.6 8.9 L1326.4 11.7 L1324.9 13.2 Z"/>
</g>
<g transform="translate(0,446)" fill="#6b7086">
<rect x="1344" y="10" width="5" height="6"/><rect x="1345.9" y="8" width="1.3" height="10.3"/>
<rect x="1350.8" y="13.3" width="5.1" height="6.4"/><rect x="1352.8" y="11.5" width="1.3" height="10.2"/>
</g>
<g transform="translate(0,446)" fill="#6b7086" stroke="#6b7086" stroke-width="1.5">
<path d="M1389.9 10.1 L1394.05 10.1 L1394.05 14.3 Z" stroke="none"/>
<path d="M1389.6 14.6 L1392.6 11.6" fill="none"/>
<path d="M1383.9 16.5 L1383.9 20.7 L1388.1 20.7 Z" stroke="none"/>
<path d="M1388.3 16.2 L1385.3 19.2" fill="none"/>
</g>
<g transform="translate(0,446)" stroke="#6b7086" stroke-width="1.7" fill="none">
<path d="M1413.4 9.6 L1425.5 21.2 M1425.5 9.6 L1413.4 21.2"/>
</g>
<circle cx="24" cy="13" r="10.05" fill="#5f8de2"/>
<path d="M17.4 12.4 L22.4 9.1 L25.5 9.1 L30 13.4 L27.2 15.9 L25.1 15.9 L22.5 17.9 Z" fill="#fff"/>
<g stroke="#a9c2f0" stroke-width="0.6"><path d="M19.6 11 L24.6 16.2"/><path d="M21.3 9.9 L26.4 15.3"/><path d="M23.3 9.3 L28.4 14.6"/></g>
<circle cx="24" cy="459" r="10.1" fill="#efbc40"/>
<g fill="#fff"><path d="M22.1 455 L26.05 455 L27.1 457.75 L21.05 457.75 Z"/><path d="M18.55 460 L22.7 460 L23.1 462.9 L17.9 462.9 Z"/><path d="M25.2 460 L29.4 460 L30 462.9 L24.8 462.9 Z"/></g>
<path d="M196.7 10.8 L205 10.8 L200.85 15.4 Z" fill="#5f6479"/>
<path d="M392.7 41.6 L402.0 41.6 L397.35 46.1 Z" fill="#5f6479"/>
<path d="M196.7 456.8 L205 456.8 L200.85 461.4 Z" fill="#5f6479"/>
<path d="M392.7 487.6 L402.0 487.6 L397.35 492.1 Z" fill="#5f6479"/>
</svg>
<div class="sep" style="top:435.3px;height:1.3px;background:#ffa384"></div>
<div class="sep" style="top:436.6px;height:2.3px;background:#e4e7f0"></div>
<div class="sep" style="top:882.4px;height:1.6px;background:#e4e7f0"></div>
<section class="panel" id="xagusd">
<header class="quote-bar">
<span class="t title" style="left:39.50px;top:3px;font-size:18.6px;color:#ff6d3f;font-weight:500;">现货白银</span>
<span class="t sym" style="left:118.75px;top:2px;font-size:18.4px;color:#5f6479;transform:translate(0,0.34px) rotate(0.05deg) scale(0.936,1.030);">XAGUSD</span>
<span class="t quote" style="left:216.55px;top:2px;font-size:18.4px;color:#d94452;-webkit-text-stroke:0.45px #d94452;transform:translate(0,0.24px) rotate(0.05deg) scale(1.016,1.065);">23.094</span>
<span class="t quote" style="left:282.25px;top:2px;font-size:18.4px;color:#d94452;-webkit-text-stroke:0.45px #d94452;transform:translate(0,0.29px) rotate(0.05deg) scale(1.015,1.065);">+0.358</span>
<span class="t quote" style="left:347.52px;top:2px;font-size:18.4px;color:#d94452;-webkit-text-stroke:0.45px #d94452;transform:translate(0,0.22px) rotate(0.05deg) scale(1.021,1.065);">+1.57%</span>
<span class="t lbl" style="left:420.50px;top:4px;font-size:15px;color:#5f6479;">最高</span>
<span class="t val" style="left:453.62px;top:3px;font-size:15px;color:#d94452;transform:translate(0,0.53px) rotate(0.05deg) scale(0.998,1.065);">23.257</span>
<span class="t lbl" style="left:503.98px;top:4px;font-size:15px;color:#5f6479;">开盘</span>
<span class="t val" style="left:536.75px;top:3px;font-size:15px;color:#0aa68b;transform:translate(0,0.52px) rotate(0.05deg) scale(1.000,1.065);">22.731</span>
<span class="t lbl" style="left:587.27px;top:4px;font-size:15px;color:#5f6479;">最低</span>
<span class="t val" style="left:620.02px;top:3px;font-size:15px;color:#0aa68b;transform:translate(0,0.55px) rotate(0.05deg) scale(1.016,1.065);">22.687</span>
<span class="t lbl" style="left:670.40px;top:4px;font-size:15px;color:#5f6479;">昨收</span>
<span class="t val" style="left:703.50px;top:3px;font-size:15px;color:#5f6479;transform:translate(0,0.55px) rotate(0.05deg) scale(1.013,1.065);">22.736</span>
</header>
<nav class="period-tabs">
<a class="t tab" style="left:14.38px;top:34px;font-size:16.1px;color:#5f6479;">分时</a>
<a class="t tab" style="left:57.10px;top:34px;font-size:16.1px;color:#5f6479;">1分</a>
<a class="t tab active" style="left:93.05px;top:34px;font-size:16.1px;color:#ff6d3f;">5分</a>
<a class="t tab" style="left:129.25px;top:34px;font-size:16.1px;color:#5f6479;">15分</a>
<a class="t tab" style="left:174.03px;top:34px;font-size:16.1px;color:#5f6479;">1时</a>
<a class="t tab" style="left:209.88px;top:34px;font-size:16.1px;color:#5f6479;">日K</a>
<a class="t tab" style="left:247.10px;top:34px;font-size:16.1px;color:#5f6479;">周K</a>
<a class="t tab" style="left:284.18px;top:34px;font-size:16.1px;color:#5f6479;">季K</a>
<a class="t tab" style="left:321.32px;top:34px;font-size:16.1px;color:#5f6479;">年K</a>
<a class="t tab" style="left:358.07px;top:34px;font-size:16.1px;color:#5f6479;">更多</a>
</nav>
</section>
<section class="panel" id="xauusd">
<header class="quote-bar">
<span class="t title" style="left:39.35px;top:449px;font-size:18.6px;color:#ff6d3f;font-weight:500;">现货黄金</span>
<span class="t sym" style="left:119.00px;top:448px;font-size:18.4px;color:#5f6479;transform:translate(0,0.35px) rotate(0.05deg) scale(0.944,1.030);">XAUUSD</span>
<span class="t quote" style="left:217.07px;top:448px;font-size:18.4px;color:#d94452;-webkit-text-stroke:0.45px #d94452;transform:translate(0,0.25px) rotate(0.05deg) scale(1.014,1.065);">1945.89</span>
<span class="t quote" style="left:293.00px;top:448px;font-size:18.4px;color:#d94452;-webkit-text-stroke:0.45px #d94452;transform:translate(0,0.23px) rotate(0.05deg) scale(0.993,1.065);">+4.52</span>
<span class="t quote" style="left:348.27px;top:448px;font-size:18.4px;color:#d94452;-webkit-text-stroke:0.45px #d94452;transform:translate(0,0.24px) rotate(0.05deg) scale(1.011,1.065);">+0.23%</span>
<span class="t lbl" style="left:420.75px;top:450px;font-size:15px;color:#5f6479;">最高</span>
<span class="t val" style="left:453.65px;top:449px;font-size:15px;color:#d94452;transform:translate(0,0.56px) rotate(0.05deg) scale(1.008,1.065);">1957.33</span>
<span class="t lbl" style="left:513.17px;top:450px;font-size:15px;color:#5f6479;">开盘</span>
<span class="t val" style="left:546.42px;top:449px;font-size:15px;color:#0aa68b;transform:translate(0,0.43px) rotate(0.05deg) scale(0.996,1.065);">1941.29</span>
<span class="t lbl" style="left:605.58px;top:450px;font-size:15px;color:#5f6479;">最低</span>
<span class="t val" style="left:638.75px;top:449px;font-size:15px;color:#0aa68b;transform:translate(0,0.56px) rotate(0.05deg) scale(1.017,1.065);">1936.77</span>
<span class="t lbl" style="left:697.60px;top:450px;font-size:15px;color:#5f6479;">昨收</span>
<span class="t val" style="left:731.52px;top:449px;font-size:15px;color:#5f6479;transform:translate(0,0.48px) rotate(0.05deg) scale(0.996,1.065);">1941.37</span>
</header>
<nav class="period-tabs">
<a class="t tab" style="left:14.38px;top:480px;font-size:16.1px;color:#5f6479;">分时</a>
<a class="t tab" style="left:57.10px;top:480px;font-size:16.1px;color:#5f6479;">1分</a>
<a class="t tab active" style="left:93.05px;top:480px;font-size:16.1px;color:#ff6d3f;">5分</a>
<a class="t tab" style="left:129.25px;top:480px;font-size:16.1px;color:#5f6479;">15分</a>
<a class="t tab" style="left:174.03px;top:480px;font-size:16.1px;color:#5f6479;">1时</a>
<a class="t tab" style="left:209.88px;top:480px;font-size:16.1px;color:#5f6479;">日K</a>
<a class="t tab" style="left:247.10px;top:480px;font-size:16.1px;color:#5f6479;">周K</a>
<a class="t tab" style="left:284.18px;top:480px;font-size:16.1px;color:#5f6479;">季K</a>
<a class="t tab" style="left:321.32px;top:480px;font-size:16.1px;color:#5f6479;">年K</a>
<a class="t tab" style="left:358.07px;top:480px;font-size:16.1px;color:#5f6479;">更多</a>
</nav>
</section>
</body></html>
